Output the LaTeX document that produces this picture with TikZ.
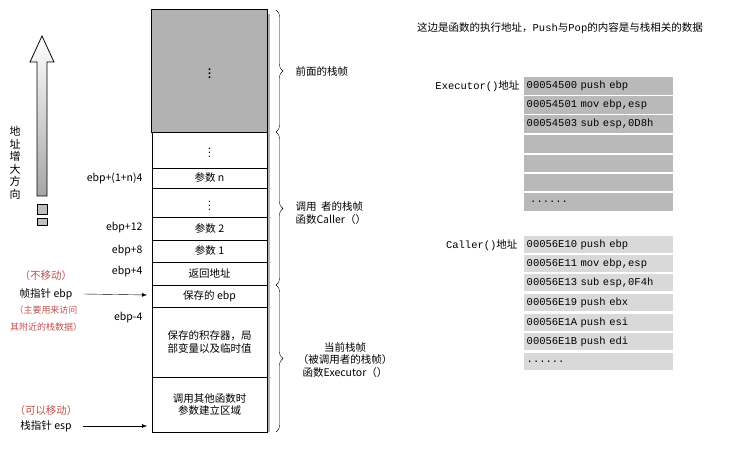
\documentclass[tikz,border=0pt]{standalone}
\usepackage{fontspec}
\setmainfont{Noto Sans CJK SC}
\setmonofont{Liberation Mono}
\usetikzlibrary{decorations.pathreplacing,arrows.meta}
\definecolor{redt}{HTML}{C0504D}
\begin{document}
\begin{tikzpicture}[x=1pt,y=-1pt,font=\fontsize{10.5}{12.5}\selectfont,
  cell/.style={draw,thick,minimum width=115pt,inner sep=0pt},
  brc/.style={decorate,decoration={brace,amplitude=7pt}},
  lab/.style={anchor=east},
  redl/.style={text=redt},
  exc/.style={fill=gray!55,minimum width=149pt,inner sep=0pt,anchor=north west,font=\ttfamily\fontsize{10.5}{12}\selectfont,text width=144pt,align=left},
  cal/.style={exc,fill=gray!30},
  ptr/.style={-{Latex[length=5pt]}}]
\useasboundingbox (0,0) rectangle (756,449);
% stack
\draw[gray!60,line width=2pt] (269,14) -- (269,432);
\foreach \a/\b/\n/\t in {10/132/g/{},132/168/d1/{$\vdots$},168/188/pn/{参数 n},188/217/d2/{$\vdots$},217/240/p2/{参数 2},240/262/p1/{参数 1},262/285/ra/{返回地址},285/307/se/{保存的 ebp},307/377/sr/{保存的积存器，局\\部变量以及临时值},377/432/ar/{调用其他函数时\\参数建立区域}}
  {\node[cell,minimum height={(\b-\a)*1pt},align=center] (\n) at (209.5,{(\a+\b)/2}) {\t};}
\fill[gray!60] (g.north west) rectangle (g.south east);
\draw[thick] (g.north west) rectangle (g.south east);
\node (gd) at (g) {\Large$\vdots$};
% braces
\draw[brc] (276,10) -- (276,132) coordinate[midway] (b1);
\draw[brc] (276,132) -- (276,285) coordinate[midway] (b2);
\draw[brc] (276,285) -- (276,432) coordinate[midway] (b3);
\node[anchor=west] (l1) at (292,71) {前面的栈帧};
\node[anchor=west,align=left] (l2) at (292,213) {调用\ \ 者的栈帧\\函数Caller（）};
\node[align=center] (l3) at (345,360) {当前栈帧\\（被调用者的栈帧）\\函数Executor（）};
% offsets
\node[lab] (o1) at (146,178) {ebp+(1+n)4};
\node[lab] (o2) at (146,228) {ebp+12};
\node[lab] (o3) at (146,251) {ebp+8};
\node[lab] (o4) at (146,272) {ebp+4};
\node[lab] (o5) at (146,318) {ebp-4};
% pointers
\node[redl] (r1) at (46,276) {（不移动）};
\node (fp) at (46,294) {帧指针 ebp};
\node[redl,font=\fontsize{9}{10}\selectfont] (r2) at (46,310) {（主要用来访问};
\node[redl,font=\fontsize{9}{10}\selectfont] (r3) at (46,327) {其附近的栈数据）};
\node[redl] (r4) at (46,411) {（可以移动）};
\node (sp) at (46,426) {栈指针 esp};
\coordinate (fpe) at (147,295);
\coordinate (spe) at (147,426);
\draw[ptr] (fp.east) ++(8,0) -- (fpe);
\draw[ptr] (sp.east) ++(8,0) -- (spe);
% address arrow
\shade[top color=white,bottom color=gray!70,draw=black,thick]
 (37,196) -- (37,62) -- (30,62) -- (42,36) -- (54,62) -- (47,62) -- (47,196) -- cycle;
\draw[thick,fill=gray!50] (37,204) rectangle (47,214);
\draw[thick,fill=gray!50] (37,218) rectangle (47,225);
\node[align=center,font=\fontsize{11}{12.5}\selectfont] (dir) at (15,163) {地\\址\\增\\大\\方\\向};
% right
\node (title) at (560,28) {这边是函数的执行地址，\texttt{Push}与\texttt{Pop}的内容是与栈相关的数据};
\node[anchor=east] (el) at (523,86) {\texttt{Executor()}地址};
\foreach \y/\h/\t [count=\i] in {77/18/{00054500 push ebp},96/18/{00054501 mov ebp,esp},115/18/{00054503 sub esp,0D8h},135/18/{},155/17/{},174/17/{},193/18/{\ ......}}
  {\node[exc,minimum height={\h*1pt}] (e\i) at (524,\y) {\t};}
\node[anchor=east] (cl) at (521,245) {\texttt{Caller()}地址};
\foreach \y/\h/\t [count=\i] in {236/17/{00056E10 push ebp},255/17/{00056E11 mov ebp,esp},274/17/{00056E13 sub esp,0F4h},294/17/{00056E19 push ebx},314/17/{00056E1A push esi},333/17/{00056E1B push edi},353/17/{......}}
  {\node[cal,minimum height={\h*1pt}] (c\i) at (524,\y) {\t};}
\end{tikzpicture}
\end{document}
